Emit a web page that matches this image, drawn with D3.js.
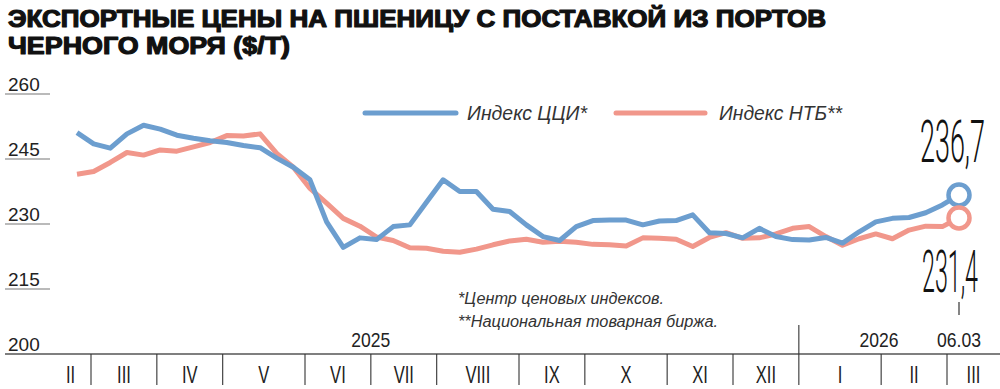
<!DOCTYPE html>
<html><head><meta charset="utf-8">
<script src="https://cdn.jsdelivr.net/npm/d3@7"></script>
<style>body{margin:0;background:#fff;} svg{display:block;}</style>
</head><body><svg id="c" width="1000" height="389"></svg>
<script>
// ---------- data ----------
const titleLines = ["ЭКСПОРТНЫЕ ЦЕНЫ НА ПШЕНИЦУ С ПОСТАВКОЙ ИЗ ПОРТОВ", "ЧЕРНОГО МОРЯ ($/Т)"];
const seriesNames = ["Индекс ЦЦИ*", "Индекс НТБ**"];
const footnotes = ["*Центр ценовых индексов.", "**Национальная товарная биржа."];
const yTicks = [200, 215, 230, 245, 260];
const monthLabels = ["II","III","IV","V","VI","VII","VIII","IX","X","XI","XII","I","II","III"];
const yearLabels = ["2025", "2026"];
const lastDateLabel = "06.03";
const firstWeek = new Date(2025, 1, 28);   // first weekly point (Friday)
const lastWeek = new Date(2026, 2, 6);     // last weekly point (Friday)
const cciValues = [251.1,248.5,247.5,250.8,252.8,251.9,250.5,249.8,249.2,248.8,248.1,247.6,245.2,243.1,
  240.2,230.5,224.6,226.8,226.4,229.4,229.8,235.0,240.2,237.5,237.5,233.4,232.9,229.8,227.1,226.2,
  229.4,230.8,230.9,230.9,229.8,230.7,230.8,232.1,228.0,227.8,226.8,229.0,227.1,226.4,226.3,226.9,
  225.6,228.2,230.5,231.3,231.5,232.6,234.4,236.7];
const ntbValues = [241.5,242.1,244.2,246.5,245.9,247.1,246.8,247.8,248.8,250.4,250.3,250.8,246.3,243.1,
  238.2,234.8,231.3,229.5,227.0,226.2,224.5,224.4,223.7,223.5,224.2,225.2,226.1,226.5,225.8,226.0,
  225.8,225.3,225.2,224.9,226.8,226.7,226.5,224.8,226.9,228.0,226.7,226.8,227.7,229.0,229.4,227.1,
  225.1,226.6,227.7,226.6,228.6,229.5,229.4,231.4];
const colors = {cci: "#6c9ecf", ntb: "#f1978b"};

// ---------- layout ----------
const svg = d3.select("#c");
const W = 1000, plotLeft = 50, plotRight = 1000, axisLeft = 5;
const dates = d3.timeFriday.range(firstWeek, d3.timeDay.offset(lastWeek, 1));
const x = d3.scalePoint().domain(dates.map((d, i) => i)).range([77, 959]);
const y = d3.scaleLinear().domain([200, 260]).range([354, 94]);

function fit(sel, w) { return sel.attr("textLength", w).attr("lengthAdjust", "spacingAndGlyphs"); }
// horizontally squeeze text to a target width, anchored at its left edge
function squeeze(g, txt, x0, yb, w, size, family, weight) {
  const t = g.append("text").attr("font-family", family).attr("font-weight", weight)
    .attr("font-size", size).attr("fill", "#111").text(txt);
  const len = t.node().getComputedTextLength();
  t.attr("transform", `translate(${x0},${yb}) scale(${w / len},1)`);
  return t;
}

// title
const tW = [818, 282];
svg.selectAll("text.title").data(titleLines).join("text")
  .attr("class", "title").attr("x", 8).attr("y", (d, i) => 27 + i * 27)
  .attr("font-family", "Liberation Sans, Arial, sans-serif").attr("font-weight", 900)
  .attr("font-size", 24).attr("fill", "#111").attr("stroke", "#111").attr("stroke-width", 1.2)
  .attr("stroke-linejoin", "round")
  .text(d => d).each(function(d, i) { fit(d3.select(this), tW[i]); });

// y ticks
const yg = svg.append("g");
yTicks.forEach(v => {
  yg.append("line").attr("x1", axisLeft).attr("x2", v === 200 ? W : plotLeft)
    .attr("y1", y(v)).attr("y2", y(v)).attr("stroke", v === 200 ? "#555" : "#777")
    .attr("stroke-width", v === 200 ? 1.6 : 1.2);
  yg.append("text").attr("x", 8).attr("y", y(v) - 3)
    .attr("font-family", "Liberation Sans, Arial, sans-serif").attr("font-size", 19)
    .attr("fill", "#222").text(v);
});

// month bands from weekly points
const monthKeys = [];
const monthCounts = new Map();
dates.forEach(d => { const k = d3.timeMonth.floor(d).getTime();
  if (!monthCounts.has(k)) { monthKeys.push(k); monthCounts.set(k, 0); }
  monthCounts.set(k, monthCounts.get(k) + 1); });
const totalInner = d3.sum(monthKeys.slice(1, -1), k => monthCounts.get(k));
const wk = d3.scaleLinear().domain([0, totalInner]).range([91, 947]);
const bounds = [plotLeft];
let cum = 0;
monthKeys.slice(1, -1).forEach((k, i) => { if (i === 0) bounds.push(wk(0)); cum += monthCounts.get(k); bounds.push(wk(cum)); });
bounds.push(plotRight);
const ag = svg.append("g");
bounds.slice(1, -1).forEach((bx, i) => {
  const isYear = new Date(monthKeys[i + 1]).getMonth() === 0;
  ag.append("line").attr("x1", bx).attr("x2", bx).attr("y1", isYear ? 325 : 354).attr("y2", 385)
    .attr("stroke", "#333").attr("stroke-width", 1.1);
});
monthLabels.forEach((m, i) => {
  const cx = (bounds[i] + bounds[i + 1]) / 2;
  ag.append("text").attr("transform", `translate(${cx},383) scale(0.72,1)`)
    .attr("text-anchor", "middle").attr("font-family", "Liberation Sans, Arial, sans-serif")
    .attr("font-size", 23).attr("fill", "#222").text(m);
});
// year labels
const junJul = bounds[5];
const janX = bounds[monthKeys.findIndex(k => new Date(k).getMonth() === 0 && new Date(k).getFullYear() === 2026)];
[[yearLabels[0], junJul], [yearLabels[1], (janX + x(dates.length - 1)) / 2]].forEach(([t, cx]) => {
  fit(ag.append("text").attr("x", cx).attr("y", 347).attr("text-anchor", "middle")
    .attr("font-family", "Liberation Sans, Arial, sans-serif").attr("font-size", 21)
    .attr("fill", "#222").text(t), 39);
});
const lx = x(dates.length - 1);
fit(ag.append("text").attr("x", lx).attr("y", 347).attr("text-anchor", "middle")
  .attr("font-family", "Liberation Sans, Arial, sans-serif").attr("font-size", 21)
  .attr("fill", "#222").text(lastDateLabel), 44);
ag.append("line").attr("x1", lx).attr("x2", lx).attr("y1", 302).attr("y2", 315)
  .attr("stroke", "#333").attr("stroke-width", 1.2);

// footnotes
footnotes.forEach((t, i) => {
  fit(svg.append("text").attr("x", 458).attr("y", 304 + i * 23)
    .attr("font-family", "Liberation Sans, Arial, sans-serif").attr("font-style", "italic")
    .attr("font-size", 16).attr("fill", "#333").text(t), [206, 260][i]);
});

// legend
[[seriesNames[0], colors.cci, 365, 456, 467, 120], [seriesNames[1], colors.ntb, 616, 705, 719, 123]]
.forEach(([t, c, x1, x2, tx, tw]) => {
  svg.append("line").attr("x1", x1).attr("x2", x2).attr("y1", 113).attr("y2", 113)
    .attr("stroke", c).attr("stroke-width", 5).attr("stroke-linecap", "round");
  fit(svg.append("text").attr("x", tx).attr("y", 120)
    .attr("font-family", "Liberation Sans, Arial, sans-serif").attr("font-style", "italic")
    .attr("font-size", 20).attr("fill", "#333").text(t), tw);
});

// lines
const line = d3.line().x((d, i) => x(i)).y(d => y(d));
svg.append("path").datum(ntbValues).attr("d", line).attr("fill", "none")
  .attr("stroke", colors.ntb).attr("stroke-width", 5).attr("stroke-linejoin", "round");
svg.append("path").datum(cciValues).attr("d", line).attr("fill", "none")
  .attr("stroke", colors.cci).attr("stroke-width", 5).attr("stroke-linejoin", "round");

// end markers
const last = dates.length - 1;
[[cciValues[last], colors.cci], [ntbValues[last], colors.ntb]].forEach(([v, c]) => {
  svg.append("circle").attr("cx", x(last)).attr("cy", y(v)).attr("r", 10.5)
    .attr("fill", "#fff").attr("stroke", c).attr("stroke-width", 4.5);
});
const fmt = v => d3.format(".1f")(v).replace(".", ",");
const bg = svg.append("g");
squeeze(bg, fmt(cciValues[last]), 920, 162, 65, 60, "Roboto, Liberation Sans, sans-serif", 300);
squeeze(bg, fmt(ntbValues[last]), 922, 292, 56, 59, "Roboto, Liberation Sans, sans-serif", 300);
</script></body></html>
